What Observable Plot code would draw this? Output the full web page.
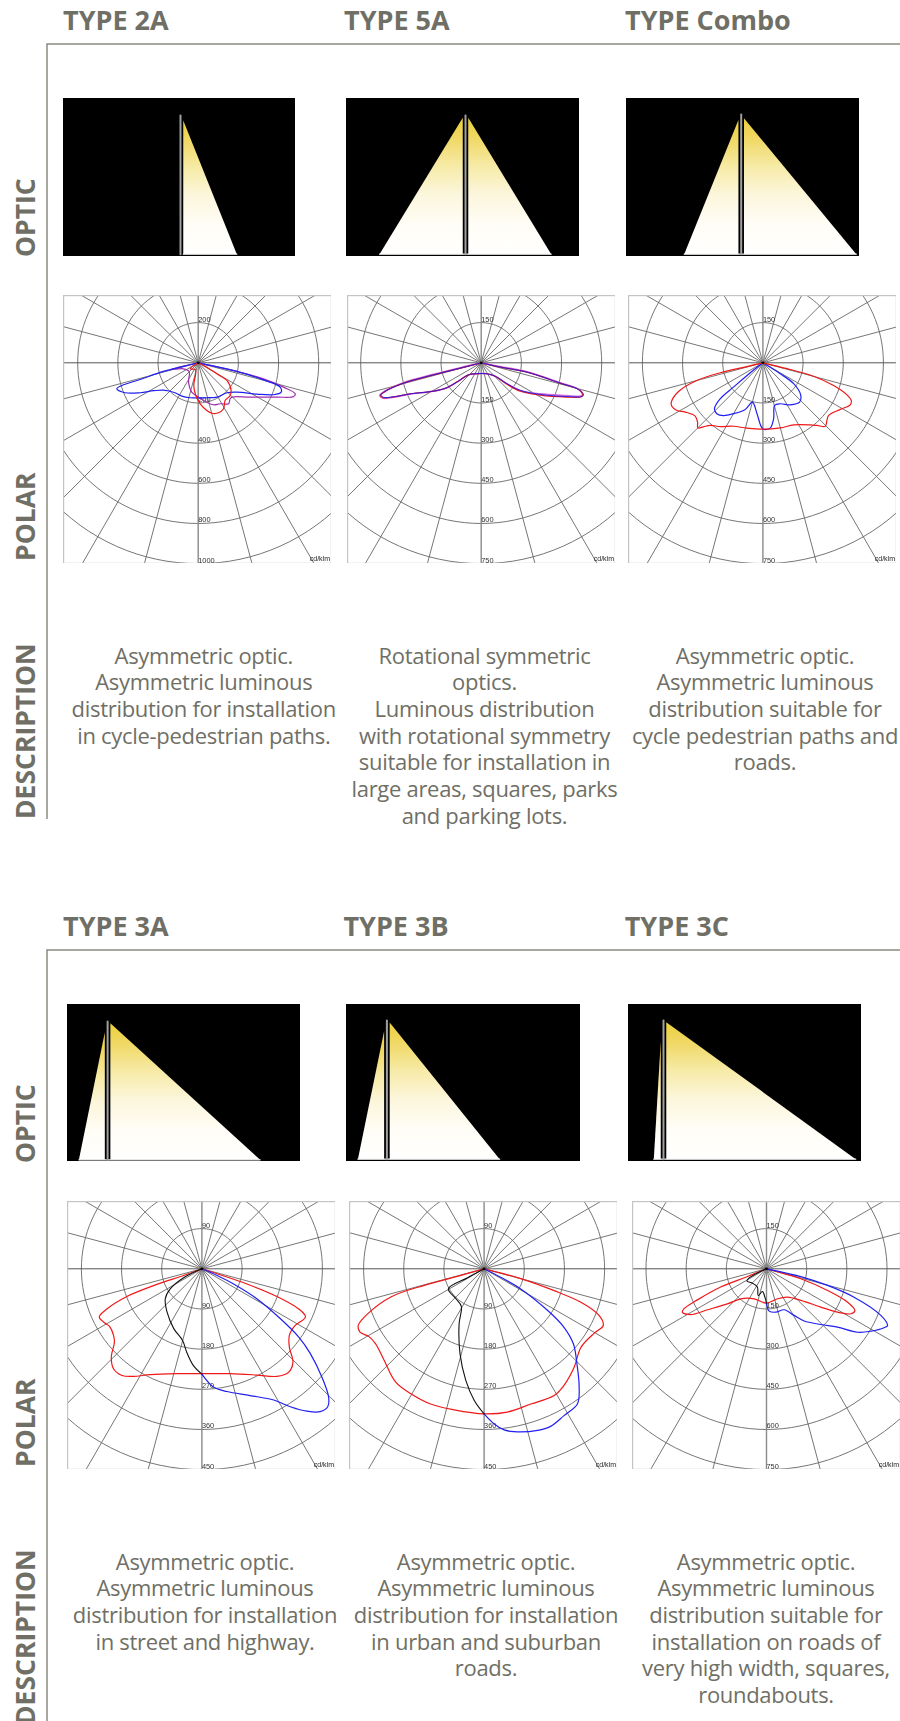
<!DOCTYPE html>
<html><head><meta charset="utf-8">
<script src="https://cdn.jsdelivr.net/npm/d3@7"></script>
<script src="https://cdn.jsdelivr.net/npm/@observablehq/plot@0.6"></script>
<style>
html,body{margin:0;padding:0;width:900px;height:1721px;overflow:hidden;background:#fff}
#page{position:relative;width:900px;height:1721px;overflow:hidden}
#page>.p{position:absolute;display:block}
.polar{filter:blur(.3px)}
</style></head><body>
<svg width="0" height="0" style="position:absolute"><defs>
<linearGradient id="beam" x1="0" y1="0" x2="0" y2="1">
<stop offset="0" stop-color="#eccf3c"/><stop offset=".16" stop-color="#f0d968"/><stop offset=".36" stop-color="#f7eba9"/>
<stop offset=".56" stop-color="#fcf6dc"/><stop offset=".78" stop-color="#fffdf6"/><stop offset="1" stop-color="#ffffff"/>
</linearGradient></defs></svg>
<div id="page"></div>
<script>
// ---------- text ----------
const typeNames = ["TYPE 2A","TYPE 5A","TYPE Combo","TYPE 3A","TYPE 3B","TYPE 3C"];
const rowLabels = ["OPTIC","POLAR","DESCRIPTION"];
const descriptions = [
 ["Asymmetric optic.","Asymmetric luminous","distribution for installation","in cycle-pedestrian paths."],
 ["Rotational symmetric","optics.","Luminous distribution","with rotational symmetry","suitable for installation in","large areas, squares, parks","and parking lots."],
 ["Asymmetric optic.","Asymmetric luminous","distribution suitable for","cycle pedestrian paths and","roads."],
 ["Asymmetric optic.","Asymmetric luminous","distribution for installation","in street and highway."],
 ["Asymmetric optic.","Asymmetric luminous","distribution for installation","in urban and suburban","roads."],
 ["Asymmetric optic.","Asymmetric luminous","distribution suitable for","installation on roads of","very high width, squares,","roundabouts."]
];
// ---------- polar tick step, cd/klm per ring ----------
const polarSteps = [200,150,150,90,90,150];
// ---------- beam reach in pole heights: [reach left, apex left, reach right, apex right] ----------
const beam2A=[0,0,.406,.964], beam5A=[.62,.983,.618,.983], beamCombo=[.411,.967,.83,.98],
      beam3A=[.207,.92,1.1,.985], beam3B=[.209,.924,.813,.986], beam3C=[.07,.85,1.386,.988];
const beams=[beam2A,beam5A,beamCombo,beam3A,beam3B,beam3C];
// ---------- photometric curves [horizontal, vertical] in cd/klm ----------
const c2A_blue=[[0,0],[-73,-18],[-173,-43],[-289,-83],[-380,-113],[-405,-129],[-364,-149],[-289,-149],[-222,-139],[-173,-136],[-115,-149],[-81,-166],[-40,-174],[43,-174],[93,-171],[143,-149],[193,-146],[292,-156],[375,-159],[413,-146],[408,-121],[325,-85],[193,-43],[60,-13],[0,0]];
const c2A_purple=[[0,0],[-136,-33],[-73,-30],[-45,-43],[-48,-96],[-32,-146],[2,-171],[43,-196],[76,-209],[110,-204],[151,-204],[159,-179],[168,-171],[259,-171],[392,-171],[475,-168],[483,-154],[425,-121],[325,-80],[193,-43],[60,-13],[0,0]];
const c2A_red=[[0,0],[-40,-30],[-15,-33],[-12,-50],[-22,-113],[-12,-163],[10,-204],[43,-237],[68,-251],[101,-249],[126,-229],[134,-188],[159,-163],[164,-138],[143,-88],[93,-55],[43,-22],[0,0]];
const c5A_purple=[[0,0],[-78,-18],[-178,-43],[-290,-74],[-361,-106],[-379,-121],[-368,-132],[-327,-129],[-265,-117],[-178,-106],[-128,-93],[-91,-72],[-47,-45],[-22,-41],[21,-41],[52,-50],[96,-78],[146,-103],[220,-116],[320,-122],[372,-124],[378,-118],[362,-98],[295,-74],[171,-33],[71,-14],[0,0]];
const c5A_red=[[0,0],[-78,-20],[-178,-45],[-290,-76],[-359,-107],[-376,-122],[-366,-130],[-327,-127],[-265,-116],[-178,-106],[-128,-93],[-91,-72],[-47,-45],[-22,-41],[21,-41],[52,-50],[96,-80],[146,-106],[220,-121],[320,-128],[374,-127],[380,-120],[364,-100],[295,-76],[171,-35],[71,-16],[0,0]];
const c5A_blue=[[0,0],[-78,-20],[-178,-45],[-290,-76],[-359,-107],[-375,-120],[-365,-129],[-327,-127],[-265,-116],[-178,-106],[-128,-93],[-91,-72],[-47,-45],[-22,-41],[21,-41],[52,-50],[96,-78],[146,-103],[220,-118],[320,-126],[376,-126],[382,-120],[364,-100],[295,-76],[171,-35],[71,-16],[0,0]];
const cCombo_red=[[0,0],[-60,-14],[-159,-37],[-247,-66],[-315,-107],[-342,-147],[-340,-162],[-321,-178],[-290,-184],[-253,-199],[-244,-222],[-243,-243],[-222,-239],[-197,-234],[-159,-238],[-110,-237],[-60,-244],[2,-248],[65,-243],[115,-232],[177,-232],[202,-234],[233,-237],[239,-215],[245,-197],[289,-174],[326,-157],[330,-141],[314,-120],[264,-85],[189,-50],[90,-22],[0,0]];
const cCombo_blue=[[0,0],[-47,-37],[-110,-91],[-159,-134],[-181,-172],[-172,-190],[-147,-197],[-110,-190],[-66,-174],[-39,-147],[-22,-190],[0,-247],[27,-244],[40,-209],[44,-159],[65,-153],[102,-157],[137,-147],[141,-120],[115,-78],[65,-41],[0,0]];
const c3A_red=[[0,0],[-41,-15],[-101,-35],[-168,-62],[-213,-90],[-230,-108],[-217,-122],[-207,-129],[-198,-149],[-196,-164],[-203,-198],[-198,-224],[-179,-239],[-153,-241],[-116,-237],[-56,-235],[0,-235],[63,-235],[123,-238],[168,-241],[194,-232],[204,-209],[196,-176],[196,-149],[209,-127],[232,-108],[217,-90],[168,-62],[101,-34],[34,-11],[0,0]];
const c3A_black=[[0,0],[-41,-20],[-71,-45],[-82,-67],[-78,-97],[-63,-134],[-43,-161],[-34,-187],[-19,-217],[0,-236]];
const c3A_blue=[[0,-236],[26,-265],[56,-275],[108,-284],[161,-294],[198,-309],[235,-319],[265,-320],[282,-309],[284,-288],[269,-243],[243,-190],[217,-153],[176,-112],[123,-67],[71,-34],[34,-15],[0,0]];
const c3B_red=[[0,0],[-60,-17],[-134,-37],[-209,-63],[-261,-101],[-282,-127],[-278,-142],[-258,-152],[-243,-168],[-224,-205],[-198,-254],[-164,-280],[-120,-303],[-67,-316],[0,-325],[52,-321],[105,-303],[157,-284],[179,-261],[202,-220],[217,-176],[247,-144],[267,-127],[258,-105],[217,-75],[157,-49],[82,-22],[0,0]];
const c3B_black=[[0,0],[-37,-20],[-80,-45],[-63,-67],[-51,-84],[-56,-123],[-54,-190],[-41,-250],[-22,-295],[0,-325]];
const c3B_blue=[[0,-325],[22,-347],[45,-361],[67,-365],[120,-362],[149,-353],[179,-329],[209,-303],[213,-265],[208,-213],[200,-168],[179,-131],[142,-93],[82,-45],[37,-19],[0,0]];
const c3C_red=[[0,0],[-71,-29],[-171,-68],[-258,-116],[-308,-149],[-314,-162],[-283,-171],[-220,-153],[-146,-131],[-96,-112],[-46,-112],[0,-128],[41,-112],[78,-106],[128,-118],[203,-143],[265,-162],[315,-168],[330,-156],[303,-125],[228,-81],[128,-37],[0,0]];
const c3C_black=[[0,0],[-40,-19],[-65,-34],[-73,-46],[-52,-54],[-34,-68],[-31,-100],[-15,-85],[-6,-106],[0,-128]];
const c3C_blue=[[0,-128],[10,-158],[35,-162],[66,-153],[103,-174],[141,-195],[203,-208],[265,-218],[340,-237],[390,-233],[439,-220],[452,-212],[427,-174],[327,-106],[228,-62],[128,-29],[0,0]];
const curves=[
 [[c2A_purple,"#a030b0",1.2],[c2A_blue,"#2020f0",1.2],[c2A_red,"#f01818",1.2]],
 [[c5A_purple,"#d070e0",1.5],[c5A_red,"#f01818",1.2],[c5A_blue,"#1818f0",.9]],
 [[cCombo_blue,"#2020f0",1.2],[cCombo_red,"#f01818",1.2]],
 [[c3A_red,"#f01818",1.2],[c3A_blue,"#2020f0",1.2],[c3A_black,"#111",1.1]],
 [[c3B_red,"#f01818",1.2],[c3B_blue,"#2020f0",1.2],[c3B_black,"#111",1.1]],
 [[c3C_red,"#f01818",1.2],[c3C_blue,"#2020f0",1.2],[c3C_black,"#111",1.1]]
];
const rayAngles=d3.range(0,360,15), ringAngles=d3.range(0,361,3), ringIndex=[1,2,3,4,5];

// ---------- layout (pixels on the page) ----------
const ink="#6f6f66";
const polarBox=[{l:63.3,t:295,ox:198},{l:347.3,t:295,ox:481},{l:628.3,t:295,ox:762.7},
                {l:67.3,t:1201.3,ox:201.7},{l:348.7,t:1201.3,ox:483.3},{l:631.7,t:1201.3,ox:765.7}];
const ringPx=40.17, polarSize=268;
const opticBox=[{l:63,r:295,t:98,b:255.7,pole:180,base:253.7,top:115},{l:346,r:579,t:98,b:255.7,pole:465,base:253.7,top:115},{l:626,r:859,t:98,b:255.7,pole:740.7,base:253.7,top:114},
                {l:67.2,r:300.2,t:1004,b:1160.7,pole:107.3,base:1159.3,top:1021},{l:346.2,r:579.8,t:1004,b:1160.7,pole:386.6,base:1158.7,top:1020},{l:628,r:861,t:1004,b:1160.7,pole:663,base:1158.7,top:1020}];
const opticPx=138.7, gap=.02;
const page=document.getElementById("page");

// page furniture and text
const ov=d3.select(page).append("svg").attr("class","p").attr("width",900).attr("height",1721).style("left",0).style("top",0);
[[44,819],[950,1725]].forEach(([a,b])=>{
  ov.append("path").attr("d",`M900,${a}H47V${b}`).attr("fill","none").attr("stroke","#8a8a80").attr("stroke-width",1.5);
});
const titleX=[63,344,625,63,343.4,624.7], titleY=[30,30,30,935.5,935.5,935.5];
typeNames.forEach((t,i)=>ov.append("text").text(t).attr("x",titleX[i]).attr("y",titleY[i])
  .attr("font-family","Open Sans").attr("font-weight",700).attr("font-size",27).attr("fill",ink));
const rowY=[[257,561,819],[1163,1467,1725]];
rowY.forEach(r=>r.forEach((y,j)=>ov.append("text").text(rowLabels[j]).attr("transform",`translate(35,${y}) rotate(-90)`)
  .attr("font-family","Open Sans").attr("font-weight",700).attr("font-size",26.5).attr("fill",ink)));
const descX=[203.8,484.5,765,205,486,766], descY=[663.5,663.5,663.5,1569.5,1569.5,1569.5];
descriptions.forEach((lines,i)=>lines.forEach((s,k)=>ov.append("text").text(s)
  .attr("x",descX[i]).attr("y",descY[i]+k*26.67).attr("text-anchor","middle")
  .attr("font-family","Open Sans").attr("font-size",22).attr("letter-spacing",-.3).attr("fill",ink)));

// optic panels
beams.forEach(([rl,al,rr,ar],i)=>{
  const b=opticBox[i];
  const ground=[{x:rl?-rl:gap,y:0},{x:rr,y:0}], pole=[{x:0,y:0},{x:0,y:(b.base-b.top)/opticPx}];
  const left=rl?[{x:-gap,y:0},{x:-gap,y:al},{x:-rl,y:0}]:[];
  const right=[{x:gap,y:0},{x:gap,y:ar},{x:rr,y:0}];
  const svg=Plot.plot({width:b.r-b.l,height:b.b-b.t,margin:0,
    x:{axis:null,domain:[(b.l-b.pole)/opticPx,(b.r-b.pole)/opticPx]},
    y:{axis:null,domain:[(b.base-b.b)/opticPx,(b.base-b.t)/opticPx]},
    style:{background:"#000"},
    marks:[
      Plot.line(left,{x:"x",y:"y",fill:"url(#beam)",stroke:"none"}),
      Plot.line(right,{x:"x",y:"y",fill:"url(#beam)",stroke:"none"}),
      Plot.line(ground,{x:"x",y:"y",stroke:"#f4f4f4",strokeWidth:1.2}),
      Plot.line(pole,{x:"x",y:"y",stroke:"#a0a0a0",strokeWidth:2})
    ]});
  svg.setAttribute("class","p");svg.style.left=b.l+"px";svg.style.top=b.t+"px";page.appendChild(svg);
});

// polar panels
polarSteps.forEach((step,i)=>{
  const b=polarBox[i], u=step/ringPx, x0=(b.l-b.ox)*u, top=(362.3-295)*u, R=12*step;
  const rings=ringIndex.flatMap(k=>ringAngles.map(a=>({k,a})));
  const rays=rayAngles.filter(a=>a%180!==0&&a!==90&&a!==270);
  const rad=a=>a*Math.PI/180;
  const marks=[
    Plot.line(rings,{x:d=>d.k*step*Math.sin(rad(d.a)),y:d=>d.k*step*Math.cos(rad(d.a)),z:"k",stroke:"#666",strokeWidth:.9,clip:true}),
    Plot.link(rays,{x1:0,y1:0,x2:a=>R*Math.sin(rad(a)),y2:a=>R*Math.cos(rad(a)),stroke:"#666",strokeWidth:.9,clip:true}),
    Plot.link([90,270],{x1:0,y1:0,x2:a=>R*Math.sin(rad(a)),y2:0,stroke:"#555",strokeWidth:1,clip:true}),
    Plot.link([0,180],{x1:0,y1:0,x2:0,y2:a=>R*Math.cos(rad(a)),stroke:"#8a8a8a",strokeWidth:1.4,clip:true}),
    Plot.frame({stroke:"#c4c4c4",strokeWidth:1.4}),
    Plot.text(ringIndex,{x:0,y:k=>-k*step,text:k=>String(k*step),textAnchor:"start",dy:-3.5,fontSize:7.4,fontFamily:"Liberation Sans",fill:"#333"}),
    Plot.text([1],{x:0,y:k=>k*step,text:k=>String(k*step),textAnchor:"start",dy:-3.5,fontSize:7.4,fontFamily:"Liberation Sans",fill:"#333"}),
    Plot.text(["cd/klm"],{frameAnchor:"bottom-right",dx:-1.5,dy:-2.5,text:d=>d,fontSize:7,fontFamily:"Liberation Sans",fill:"#222"}),
    ...curves[i].map(([pts,color,w])=>Plot.line(pts,{x:d=>d[0],y:d=>d[1],stroke:color,strokeWidth:w,curve:"catmull-rom"})),
    Plot.dot([0],{x:0,y:0,r:1.4,fill:"#000"})
  ];
  const svg=Plot.plot({width:polarSize,height:polarSize,margin:0,
    x:{axis:null,domain:[x0,x0+polarSize*u]},
    y:{axis:null,domain:[top-polarSize*u,top]},
    style:{background:"#fff"},marks});
  svg.setAttribute("class","p polar");svg.style.left=b.l+"px";svg.style.top=b.t+"px";page.appendChild(svg);
});
</script>
</body></html>
